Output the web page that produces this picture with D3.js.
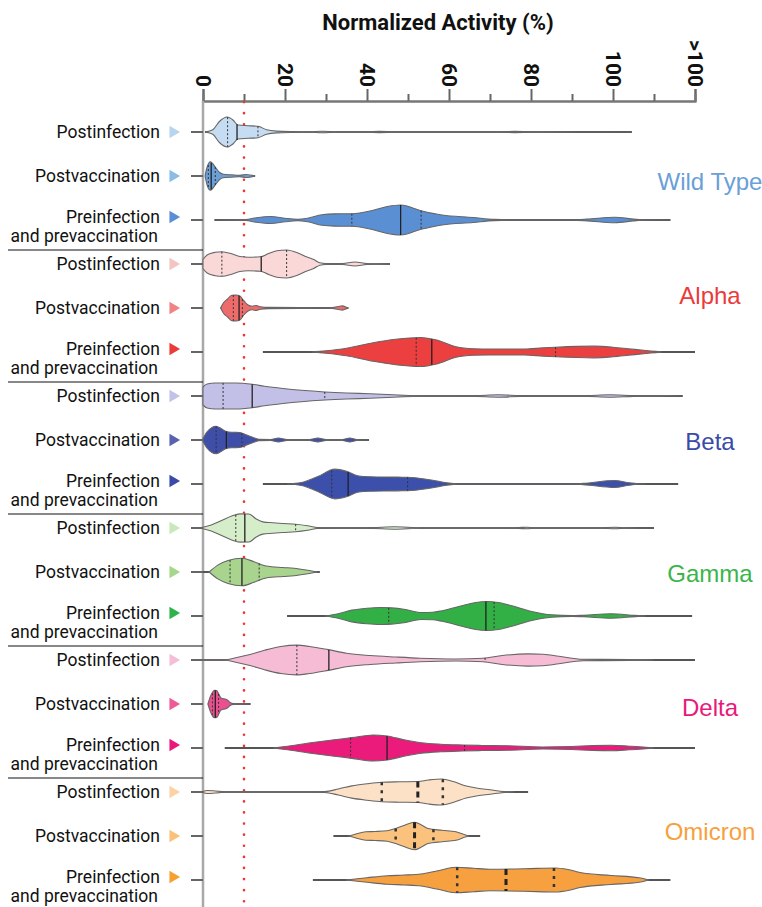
<!DOCTYPE html>
<html>
<head>
<meta charset="utf-8">
<script src="https://cdn.jsdelivr.net/npm/d3@7"></script>
<style>
body { margin: 0; background: #fff; }
text { font-family: Roboto, "Liberation Sans", sans-serif; }
</style>
</head>
<body>
<div id="chart"></div>
<script>
// ---- data ----
var variants = ["Wild Type", "Alpha", "Beta", "Gamma", "Delta", "Omicron"];
var groups = ["Postinfection", "Postvaccination", "Preinfection"];
var tickValues = [0, 20, 40, 60, 80, 100, 120];
var tickLabels = ["0", "20", "40", "60", "80", "100", ">100"];
var minorTicks = [10, 30, 50, 70, 90, 110];
var threshold = 10;

// density profiles: [normalized activity %, relative density]
var wtPostInf = [[0.5,0],[2.4,0.15],[4,0.7],[5.9,1.0],[7.3,0.8],[8.5,0.47],[11,0.42],[13.4,0.38],[15.5,0.15],[18,0.06],[22,0.03],[26,0.02],[29,0.05],[33,0.02],[40,0.02],[43,0.04],[47,0.02],[72,0.02],[76,0.04],[80,0.02],[104.6,0]];
var wtPostVac = [[0.5,0],[1,0.6],[1.8,0.95],[3,0.6],[4,0.25],[5,0.12],[7,0.08],[9,0.05],[10.5,0.1],[12.7,0]];
var wtPre = [[2.8,0],[10.4,0.03],[13,0.15],[16.6,0.23],[20,0.12],[23,0.05],[25.5,0.12],[29,0.35],[32.2,0.41],[36.3,0.42],[41.5,0.65],[45,0.9],[48.2,1.0],[53.2,0.62],[58.3,0.33],[65.9,0.17],[71,0.04],[80,0.01],[90,0.02],[93.7,0.06],[100.4,0.18],[105,0.06],[107,0.01],[114,0]];
var alphaPostInf = [[0,0.3],[1,0.6],[3,0.78],[4.6,0.82],[7,0.68],[9,0.5],[11,0.45],[14,0.48],[16,0.7],[18,0.88],[20.4,0.93],[23,0.75],[25,0.5],[27,0.3],[28.5,0.08],[30,0.03],[34,0.03],[37,0.13],[40,0.03],[45.6,0]];
var alphaPostVac = [[4.3,0],[5,0.35],[6,0.6],[7,0.85],[8,0.87],[9,0.8],[10,0.45],[11,0.2],[12,0.12],[13,0.17],[14,0.08],[16,0.04],[31,0.02],[33,0.1],[34,0.14],[35,0.05],[35.4,0]];
var alphaPre = [[26.4,0],[30,0.08],[35,0.25],[41.5,0.62],[47,0.85],[53,0.97],[57,0.8],[61.7,0.35],[66,0.22],[70,0.2],[78.5,0.2],[83,0.28],[86,0.32],[95.4,0.39],[100,0.32],[103.7,0.22],[108,0.1],[110.5,0.04],[112,0]];
var betaPostInf = [[0,0.6],[1,0.8],[3,0.87],[8,0.87],[12,0.78],[15,0.65],[19.5,0.5],[24,0.38],[29.7,0.27],[35,0.2],[40.7,0.15],[45,0.1],[49,0.05],[53,0.02],[60,0.01],[66.7,0.03],[72,0.08],[77.5,0.03],[88,0.01],[94,0.03],[99,0.08],[105,0.03],[110,0.01],[117,0]];
var betaPostVac = [[0,0.1],[1,0.55],[3.2,0.92],[4.5,0.75],[5.7,0.57],[7,0.52],[9,0.5],[10.5,0.35],[12.4,0.15],[13.7,0.04],[16.5,0.03],[18.4,0.13],[20.5,0.03],[26,0.03],[28,0.13],[30,0.03],[34,0.03],[35.8,0.13],[37.5,0.03],[40.5,0]];
var betaPre = [[20.5,0],[24,0.1],[28,0.5],[32.2,0.99],[35,0.85],[38,0.53],[41,0.48],[44.9,0.46],[49.9,0.45],[54.9,0.3],[58,0.15],[60,0.06],[62,0.02],[90,0.01],[92.7,0.04],[100.4,0.23],[104,0.08],[106.3,0.02],[108,0]];
var gammaPostInf = [[0,0.05],[2,0.2],[4.4,0.48],[7,0.8],[9,0.94],[11.2,0.93],[13,0.6],[14.6,0.41],[17,0.35],[19.5,0.3],[22.6,0.25],[25.5,0.15],[28,0.03],[35,0.01],[41.5,0.03],[46.6,0.08],[53.2,0.02],[70,0.01],[77,0.03],[79,0.05],[81,0.02],[96,0.01],[98,0.03],[100.5,0.05],[103,0.02],[110,0]];
var gammaPostVac = [[1.5,0],[3.6,0.46],[6.1,0.76],[9.5,0.92],[12.4,0.69],[15.4,0.4],[19.5,0.3],[22.2,0.25],[25.5,0.12],[28,0]];
var gammaPre = [[29.7,0],[33,0.15],[36.3,0.39],[40,0.52],[43.2,0.57],[46,0.54],[49,0.45],[53.2,0.23],[56,0.25],[58.3,0.35],[63.4,0.7],[66.5,0.9],[69.3,0.97],[72,0.9],[75.1,0.7],[80.2,0.3],[85,0.08],[90,0.03],[92.7,0.05],[99.5,0.15],[105.4,0.04],[108,0]];
var deltaPostInf = [[0,0.01],[5.3,0.02],[8,0.15],[11.2,0.35],[15,0.65],[19,0.9],[22.9,0.99],[26,0.9],[30.5,0.69],[35,0.45],[40.7,0.3],[47,0.2],[53,0.12],[61.7,0.07],[68.3,0.12],[73,0.3],[79.3,0.41],[83,0.38],[86.8,0.25],[92.7,0.05],[104,0.03],[110,0]];
var deltaPostVac = [[1.2,0],[1.8,0.5],[2.8,0.92],[3.3,0.9],[4.4,0.4],[5.7,0.3],[6.2,0.2],[6.6,0.1],[7.5,0.03],[11.6,0]];
var deltaPre = [[17,0],[20,0.1],[26.3,0.35],[32,0.55],[36.3,0.69],[41.5,0.87],[44.9,0.8],[49,0.55],[53.2,0.35],[58,0.25],[63.4,0.2],[68,0.17],[74.3,0.15],[82.7,0.07],[90,0.1],[95,0.16],[99.5,0.18],[104,0.12],[108,0.05],[110,0]];
var omiPostInf = [[0,0.03],[1,0.1],[3,0.07],[5.3,0.02],[10,0.01],[25,0.01],[29.7,0.03],[33,0.2],[36.3,0.41],[40,0.55],[43.6,0.65],[48,0.68],[52.4,0.7],[55,0.8],[58.3,0.87],[61,0.7],[64.2,0.4],[67,0.25],[70,0.15],[73.4,0.03],[76,0]];
var omiPostVac = [[35.6,0],[37.5,0.15],[39.7,0.28],[42,0.3],[44.9,0.35],[47,0.5],[49,0.7],[51.6,0.92],[53.5,0.7],[54.9,0.5],[58.3,0.38],[61.7,0.28],[64.2,0.05],[65,0]];
var omiPre = [[34.8,0],[40,0.15],[44.9,0.28],[49,0.33],[53.2,0.4],[57,0.6],[61.7,0.85],[66,0.78],[70,0.72],[78.5,0.75],[86,0.8],[89,0.7],[92,0.5],[99.5,0.3],[106.3,0.15],[108.8,0]];

var densities = [wtPostInf, wtPostVac, wtPre, alphaPostInf, alphaPostVac, alphaPre,
  betaPostInf, betaPostVac, betaPre, gammaPostInf, gammaPostVac, gammaPre,
  deltaPostInf, deltaPostVac, deltaPre, omiPostInf, omiPostVac, omiPre];
// whisker range (min, max) per row
var ranges = [[0.5,104.6],[0.5,12.7],[2.8,114],[0,45.6],[4.3,35.4],[14.6,120],
  [0,117],[0,40.5],[14.6,115.9],[0,110],[0,28.5],[20.5,119.3],
  [0,120],[1.2,11.6],[5.3,120],[0,79.3],[31.8,67.6],[26.8,114]];
var medians = [8.3, 2, 48.2, 14.2, 8.8, 55.8, 12, 5.7, 35.4, 10.2, 9.5, 69, 30.7, 3, 44.9, 52.4, 51.6, 73.9];
var quartiles = [[6,13.4],[1.3,3],[36.3,53.2],[4.6,20.4],[7.4,9.6],[52,86],
  [4.9,29.7],[3.2,9.5],[31.4,49.9],[8,22.6],[6.6,13.7],[45.3,71],
  [22.9,68.8],[2.3,3.8],[36,63.8],[43.6,58.5],[47,56.2],[62,85.6]];

// ---- colours ----
var labelColors = ["#6a9fd8", "#ea3a3a", "#3a4aa8", "#3ab54a", "#e8197a", "#f7a040"];
var fillColors = [
  ["#c6dcf2", "#6a9fd8", "#5a8fd4"],
  ["#fbd8d8", "#ee6b6b", "#ec3f3f"],
  ["#c3c0e8", "#3f4fa9", "#3c4fab"],
  ["#d5edc9", "#a9d48e", "#33b045"],
  ["#f6bcd6", "#ec4f8f", "#ea1b7b"],
  ["#fde1c6", "#fbc27e", "#f6a040"]
];
var markColors = [
  ["#b8d5ef", "#8cbbe8", "#5b8ed6"],
  ["#f4c4c4", "#f08383", "#ea3a3a"],
  ["#c4c2e8", "#5962b0", "#3a4aa8"],
  ["#c9e8bd", "#a5d68a", "#2db34a"],
  ["#f6bdd8", "#ee5a95", "#e8197a"],
  ["#fcd3a8", "#fbc07a", "#f7a030"]
];

// ---- layout ----
var width = 762, height = 907;
var svg = d3.select("#chart").append("svg")
  .attr("width", width)
  .attr("height", height);

var x = d3.scaleLinear().domain([0, 120]).range([203, 695]);
var rows = [];
variants.forEach(function(v, vi) {
  groups.forEach(function(g, gi) {
    rows.push({ key: vi + "-" + gi, vi: vi, gi: gi });
  });
});
rows.forEach(function(r, i) {
  r.density = densities[i];
  r.range = ranges[i];
  r.median = medians[i];
  r.q = quartiles[i];
});
var y = d3.scaleBand().domain(rows.map(function(r) { return r.key; })).range([110, 902]);
var w = d3.scaleLinear().domain([0, 1]).range([0, 15]);

function rowY(r) { return y(r.key) + y.bandwidth() / 2; }
function densAt(prof, v) {
  for (var i = 1; i < prof.length; i++) {
    if (v <= prof[i][0]) {
      var a = prof[i - 1], b = prof[i];
      var t = (v - a[0]) / (b[0] - a[0]);
      return a[1] + t * (b[1] - a[1]);
    }
  }
  return 0;
}

// title
svg.append("text")
  .attr("x", 438).attr("y", 30)
  .attr("text-anchor", "middle")
  .style("font-size", "22px").style("font-weight", "bold")
  .attr("fill", "#111")
  .text("Normalized Activity (%)");

// top axis
var axisY = 101;
var gx = svg.append("g").attr("transform", "translate(0," + axisY + ")");
gx.call(d3.axisTop(x).tickValues(tickValues).tickSize(12)
  .tickFormat(function(d, i) { return tickLabels[i]; }));
gx.append("g").call(d3.axisTop(x).tickValues(minorTicks).tickSize(7).tickFormat(""));
gx.selectAll("path.domain").attr("stroke", "#777").attr("stroke-width", 2);
gx.selectAll(".tick line").attr("stroke", "#666").attr("stroke-width", 2);
gx.selectAll(".tick text")
  .attr("x", 0).attr("y", 0).attr("dy", "0.36em")
  .attr("transform", "translate(0,-14) rotate(90)")
  .style("text-anchor", "end")
  .style("font-size", "21px").style("font-weight", "bold")
  .attr("fill", "#111")
  .style("font-family", "Roboto, sans-serif");

// left vertical line and row ticks
svg.append("line")
  .attr("x1", x(0)).attr("x2", x(0))
  .attr("y1", axisY).attr("y2", height)
  .attr("stroke", "#a8a8a8").attr("stroke-width", 2.5);

var gy = svg.append("g").attr("transform", "translate(" + x(0) + ",0)");
gy.call(d3.axisLeft(y).tickSize(12).tickFormat(""));
gy.select("path.domain").remove();
gy.selectAll(".tick line").attr("stroke", "#666").attr("stroke-width", 2);

// threshold line
svg.append("line")
  .attr("x1", x(threshold)).attr("x2", x(threshold))
  .attr("y1", axisY + 1).attr("y2", height)
  .attr("stroke", "#f0342f").attr("stroke-width", 2.6)
  .attr("stroke-linecap", "round")
  .attr("stroke-dasharray", "0.1,11");

// violins
var area = d3.area()
  .x(function(d) { return x(d[0]); })
  .y0(function(d) { return -w(d[1]); })
  .y1(function(d) { return w(d[1]); })
  .curve(d3.curveMonotoneX);

var node = svg.selectAll(".violin")
  .data(rows)
  .enter()
  .append("g")
  .attr("class", "violin")
  .attr("transform", function(d) { return "translate(0," + rowY(d) + ")"; });

node.append("line")
  .attr("x1", function(d) { return x(d.range[0]); })
  .attr("x2", function(d) { return x(d.range[1]); })
  .attr("stroke", "#555").attr("stroke-width", 2);

node.append("path")
  .attr("d", function(d) { return area(d.density); })
  .attr("fill", function(d) { return fillColors[d.vi][d.gi]; })
  .attr("stroke", "#666").attr("stroke-width", 1.1);

node.append("line")
  .attr("x1", function(d) { return x(d.median); })
  .attr("x2", function(d) { return x(d.median); })
  .attr("y1", function(d) { return -w(densAt(d.density, d.median)); })
  .attr("y2", function(d) { return w(densAt(d.density, d.median)); })
  .attr("stroke", "#222")
  .attr("stroke-width", function(d) { return d.vi === 5 ? 3 : 1.3; })
  .attr("stroke-dasharray", function(d) { return d.vi === 5 ? "6,4" : null; });

node.selectAll(".q")
  .data(function(d) { return d.q.map(function(v) { return { v: v, r: d }; }); })
  .enter()
  .append("line")
  .attr("x1", function(d) { return x(d.v); })
  .attr("x2", function(d) { return x(d.v); })
  .attr("y1", function(d) { return -w(densAt(d.r.density, d.v)); })
  .attr("y2", function(d) { return w(densAt(d.r.density, d.v)); })
  .attr("stroke", "#333")
  .attr("stroke-width", function(d) { return d.r.vi === 5 ? 2.5 : 1; })
  .attr("stroke-dasharray", function(d) { return d.r.vi === 5 ? "3,5" : "2,2"; });

// row labels
var lab = svg.selectAll(".rowlab")
  .data(rows)
  .enter()
  .append("g")
  .attr("class", "rowlab")
  .attr("transform", function(d) { return "translate(0," + rowY(d) + ")"; });

lab.append("text")
  .attr("x", 160)
  .attr("y", function(d) { return d.gi === 2 ? 3 : 6; })
  .attr("text-anchor", "end")
  .style("font-size", "17.5px")
  .attr("fill", "#111")
  .text(function(d) { return groups[d.gi]; });

lab.filter(function(d) { return d.gi === 2; })
  .append("text")
  .attr("x", 158).attr("y", 22)
  .attr("text-anchor", "end")
  .style("font-size", "17.5px")
  .attr("fill", "#111")
  .text("and prevaccination");

lab.append("path")
  .attr("d", d3.symbol().type(d3.symbolTriangle).size(65))
  .attr("transform", function(d) { return "translate(173," + (d.gi === 2 ? -3 : 0) + ") rotate(90)"; })
  .attr("fill", function(d) { return markColors[d.vi][d.gi]; });

// group separators
svg.selectAll(".sep")
  .data(rows.filter(function(r) { return r.gi === 2 && r.vi < 5; }))
  .enter()
  .append("line")
  .attr("x1", 8).attr("x2", x(0))
  .attr("y1", function(d) { return rowY(d) + 30; })
  .attr("y2", function(d) { return rowY(d) + 30; })
  .attr("stroke", "#111").attr("stroke-width", 1.2);

// variant names
var nameShift = [6, -12, 2, 2, 4, -4];
svg.selectAll(".vname")
  .data(variants)
  .enter()
  .append("text")
  .attr("x", 710)
  .attr("y", function(d, i) { return rowY(rows[i * 3 + 1]) + nameShift[i] + 8; })
  .attr("text-anchor", "middle")
  .style("font-size", "24px")
  .style("font-family", "'Liberation Sans', Arial, sans-serif")
  .attr("fill", function(d, i) { return labelColors[i]; })
  .text(function(d) { return d; });
</script>
</body>
</html>
